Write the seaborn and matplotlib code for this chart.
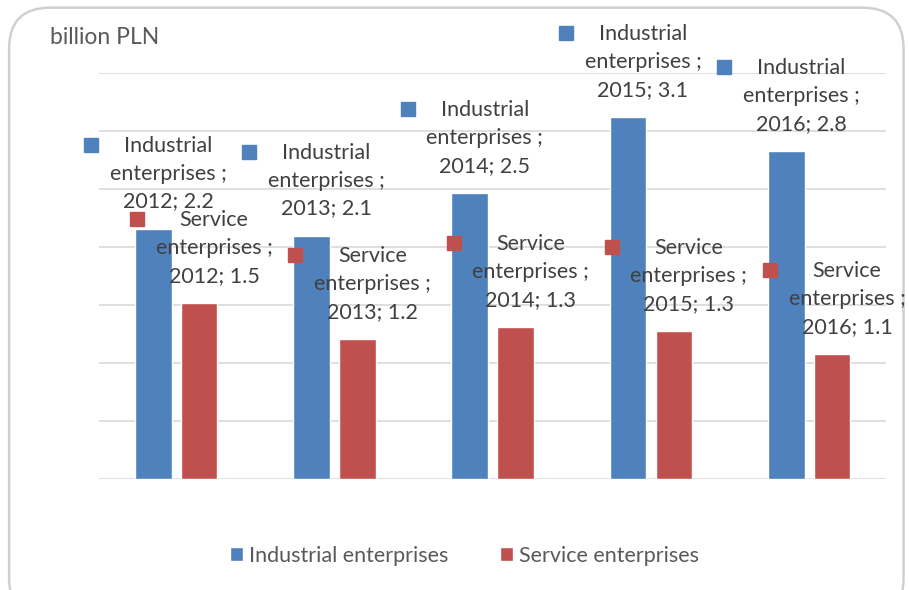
import pandas as pd
import matplotlib.pyplot as plt
import matplotlib.transforms as mtransforms
from matplotlib.patches import FancyBboxPatch
import seaborn as sns

# dane z wykresu
years = ['2012', '2013', '2014', '2015', '2016']
industrial = [2.16, 2.10, 2.47, 3.12, 2.83]
service = [1.52, 1.21, 1.31, 1.28, 1.08]
series_names = ['Industrial enterprises', 'Service enterprises']
colors = ['#4F81BD', '#C0504D']

df = pd.DataFrame({
    'year': years * 2,
    'value': industrial + service,
    'series': [series_names[0]] * 5 + [series_names[1]] * 5,
})

sns.set_theme(style="white")
plt.rcParams['font.family'] = ['Lato', 'DejaVu Sans']

fig = plt.figure(figsize=(9.09, 5.9), dpi=100)
ax = fig.add_axes([0.109, 0.188, 0.866, 0.688])

# ramka wykresu (dol wychodzi poza obraz)
frame = FancyBboxPatch((0.01, -0.05), 0.984, 1.037, boxstyle="round,pad=0,rounding_size=0.045",
                       transform=fig.transFigure, facecolor='white', edgecolor='#d0d0d0',
                       linewidth=1.8, zorder=-10, mutation_aspect=909 / 590)
fig.patches.append(frame)

sns.barplot(data=df, x='year', y='value', hue='series', palette=colors,
            width=0.58, gap=0.2, ax=ax, legend=True, zorder=3, saturation=1)

ax.set_ylim(0, 3.5)
ax.set_yticks([i * 0.5 for i in range(8)])
ax.yaxis.grid(True, color='#d9d9d9', linewidth=1.2, zorder=0)
ax.set_yticklabels([])
ax.set_xticklabels([])
ax.tick_params(length=0)
ax.set_xlabel('')
ax.set_ylabel('')
for s in ax.spines.values():
    s.set_visible(False)
ax.patch.set_alpha(0)

# etykiety danych z kluczem legendy
text_color = '#404040'
for container, name, col in zip(ax.containers, series_names, colors):
    for bar, yr in zip(container, years):
        xc = bar.get_x() + bar.get_width() / 2
        h = bar.get_height()
        label = f"{name.split()[0]}\nenterprises ;\n{yr}; {h:.1f}"
        ax.annotate(label, (xc, h), xytext=(15, 55), textcoords='offset pixels',
                    ha='center', va='center', fontsize=15.5, color=text_color,
                    linespacing=1.5, zorder=10, annotation_clip=False)
        tr = mtransforms.offset_copy(ax.transData, fig=fig, x=-62, y=84, units='dots')
        ax.plot([xc], [h], marker='s', markersize=9.5, color=col, transform=tr,
                zorder=11, clip_on=False, linestyle='none')

fig.text(0.055, 0.937, 'billion PLN', fontsize=16.5, color='#595959', va='center')

leg = ax.legend(loc='center', bbox_to_anchor=(0.511, 0.058), bbox_transform=fig.transFigure,
                ncol=2, frameon=False, fontsize=15.5, handlelength=0.6, handleheight=0.6,
                handletextpad=0.3, columnspacing=2.4)
for t in leg.get_texts():
    t.set_color('#595959')

plt.savefig('out.png', dpi=100)
